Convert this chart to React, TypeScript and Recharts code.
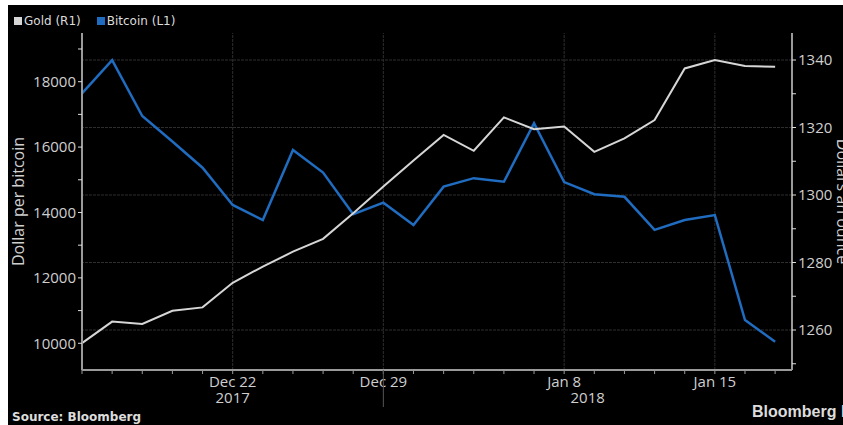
import React from "react";
import { LineChart, Line, XAxis, YAxis, Legend, ReferenceLine } from "recharts";

// business days shown on the chart
const dates = [
  "Dec 15", "Dec 18", "Dec 19", "Dec 20", "Dec 21", "Dec 22",
  "Dec 25", "Dec 26", "Dec 27", "Dec 28", "Dec 29",
  "Jan 1", "Jan 2", "Jan 3", "Jan 4", "Jan 5",
  "Jan 8", "Jan 9", "Jan 10", "Jan 11", "Jan 12",
  "Jan 15", "Jan 16", "Jan 17",
];

const bitcoin = [
  17640, 18660, 16950, 16170, 15370, 14230,
  13770, 15910, 15220, 13950, 14300,
  13620, 14790, 15050, 14940, 16730,
  14930, 14560, 14480, 13470, 13770,
  13920, 10710, 10050,
];

const gold = [
  1256.1, 1262.5, 1261.8, 1265.7, 1266.7, 1274.0,
  1278.8, 1283.2, 1287.0, 1294.6, 1302.5,
  1310.2, 1317.8, 1313.1, 1323.0, 1319.5,
  1320.3, 1312.8, 1316.8, 1322.2, 1337.5,
  1340.0, 1338.2, 1338.0,
];

const legendOrder = ["Gold (R1)", "Bitcoin (L1)"];
const dateLabels = ["Dec 22", "Dec 29", "Jan 8", "Jan 15"];
const years = ["2017", "2018"];
const yearBreak = "Dec 29";

const btcTicks = [10000, 11000, 12000, 13000, 14000, 15000, 16000, 17000, 18000, 19000];
const btcLabels = [10000, 12000, 14000, 16000, 18000];
const goldTicks = [1250, 1260, 1270, 1280, 1290, 1300, 1310, 1320, 1330, 1340];
const goldLabels = [1260, 1280, 1300, 1320, 1340];

const data = dates.map((d, i) => ({
  i,
  date: d,
  bitcoin: bitcoin[i],
  gold: gold[i],
}));

const xMax = 23.56;
const breakIdx = dates.indexOf(yearBreak);
const yearTicks = [breakIdx / 2, breakIdx, (breakIdx + xMax) / 2];

const labelFont = "Open Sans";
const textColor = "#cfcfcf";
const axisColor = "#9a9a9a";
const gridColor = "#2e2e2e";

const YearTick = (props: any) => {
  const { x, y, payload } = props;
  if (payload.value === breakIdx) {
    return <line x1={x} x2={x} y1={y - 20} y2={y + 17} stroke="#555" strokeWidth={1} />;
  }
  const label = payload.value < breakIdx ? years[0] : years[1];
  return (
    <text x={x} y={y} dy="0.85em" textAnchor="middle" fill={textColor} fontFamily={labelFont} fontSize={15}>
      {label}
    </text>
  );
};

const LegendContent = (props: any) => {
  const items = [...(props.payload || [])].sort(
    (a: any, b: any) => legendOrder.indexOf(a.value) - legendOrder.indexOf(b.value)
  );
  return (
    <div
      style={{
        display: "flex",
        alignItems: "center",
        height: 20,
        fontFamily: "DejaVu Sans",
        fontSize: 12,
        color: "#dcdcdc",
      }}
    >
      {items.map((it: any) => (
        <span key={it.value} style={{ display: "flex", alignItems: "center", marginRight: 16 }}>
          <span style={{ width: 8, height: 8, background: it.color, marginRight: 2 }} />
          {it.value}
        </span>
      ))}
    </div>
  );
};

const App = () => {
  return (
    <div
      style={{
        position: "absolute",
        left: 8,
        top: 5,
        width: 835,
        height: 420,
        background: "#000",
        overflow: "hidden",
      }}
    >
      <LineChart
        width={835}
        height={420}
        data={data}
        margin={{ top: 8, right: 0, bottom: 7, left: 0 }}
      >
        <Legend
          verticalAlign="top"
          align="left"
          content={<LegendContent />}
          wrapperStyle={{ top: 6, left: 6 }}
        />
        <XAxis
          xAxisId="date"
          dataKey="i"
          type="number"
          domain={[0, xMax]}
          ticks={dates.map((_, i) => i)}
          interval={0}
          height={18}
          tickSize={4}
          tickMargin={2}
          stroke={axisColor}
          axisLine={{ stroke: axisColor, strokeWidth: 2 }}
          tickLine={{ stroke: axisColor }}
          tick={{ fill: textColor, fontFamily: labelFont, fontSize: 15 }}
          tickFormatter={(v: number) => (dateLabels.includes(dates[v]) ? dates[v] : "")}
        />
        <XAxis
          xAxisId="year"
          dataKey="i"
          type="number"
          domain={[0, xMax]}
          ticks={yearTicks}
          interval={0}
          height={30}
          tickSize={0}
          tickMargin={2}
          axisLine={false}
          tickLine={false}
          tick={<YearTick />}
        />
        <YAxis
          yAxisId="left"
          domain={[9183, 19489]}
          ticks={btcTicks}
          interval={0}
          width={74}
          tickSize={4}
          tickMargin={2}
          axisLine={{ stroke: axisColor, strokeWidth: 2 }}
          tickLine={{ stroke: "#ddd" }}
          tick={{ fill: textColor, fontFamily: labelFont, fontSize: 15 }}
          tickFormatter={(v: number) => (btcLabels.includes(v) ? String(v) : "")}
          label={{
            value: "Dollar per bitcoin",
            angle: -90,
            position: "insideLeft",
            offset: 10,
            fill: textColor,
            fontFamily: labelFont,
            fontSize: 16,
            style: { textAnchor: "middle" },
          }}
        />
        <YAxis
          yAxisId="right"
          orientation="right"
          domain={[1248.15, 1348]}
          ticks={goldTicks}
          interval={0}
          width={51}
          tickSize={4}
          tickMargin={2}
          axisLine={{ stroke: axisColor, strokeWidth: 2 }}
          tickLine={{ stroke: "#ddd" }}
          tick={{ fill: textColor, fontFamily: labelFont, fontSize: 15 }}
          tickFormatter={(v: number) => (goldLabels.includes(v) ? String(v) : "")}
          label={{
            value: "Dollars an ounce",
            angle: 90,
            position: "insideRight",
            offset: 0,
            fill: textColor,
            fontFamily: labelFont,
            fontSize: 16,
            style: { textAnchor: "middle" },
          }}
        />
        {goldLabels.map((v) => (
          <ReferenceLine
            key={"h" + v}
            y={v}
            yAxisId="right"
            xAxisId="date"
            stroke={gridColor}
            strokeDasharray="3 1"
          />
        ))}
        {dateLabels.map((d) => (
          <ReferenceLine
            key={"v" + d}
            x={dates.indexOf(d)}
            xAxisId="date"
            yAxisId="left"
            stroke={gridColor}
            strokeDasharray="3 1"
          />
        ))}
        <Line
          xAxisId="date"
          yAxisId="left"
          type="linear"
          dataKey="bitcoin"
          name="Bitcoin (L1)"
          stroke="#1f6cc0"
          strokeWidth={2.5}
          dot={false}
          isAnimationActive={false}
        />
        <Line
          xAxisId="date"
          yAxisId="right"
          type="linear"
          dataKey="gold"
          name="Gold (R1)"
          stroke="#d6d6d6"
          strokeWidth={2}
          dot={false}
          isAnimationActive={false}
        />
      </LineChart>
      <div
        style={{
          position: "absolute",
          left: 4,
          top: 405,
          fontFamily: "DejaVu Sans",
          fontWeight: "bold",
          fontSize: 12,
          color: "#dcdcdc",
        }}
      >
        Source: Bloomberg
      </div>
      <div
        style={{
          position: "absolute",
          left: 744,
          top: 398,
          fontFamily: "Liberation Sans",
          fontWeight: "bold",
          fontSize: 16,
          color: "#dcdcdc",
          whiteSpace: "nowrap",
        }}
      >
        Bloomberg L.P.
      </div>
    </div>
  );
};

export default App;
